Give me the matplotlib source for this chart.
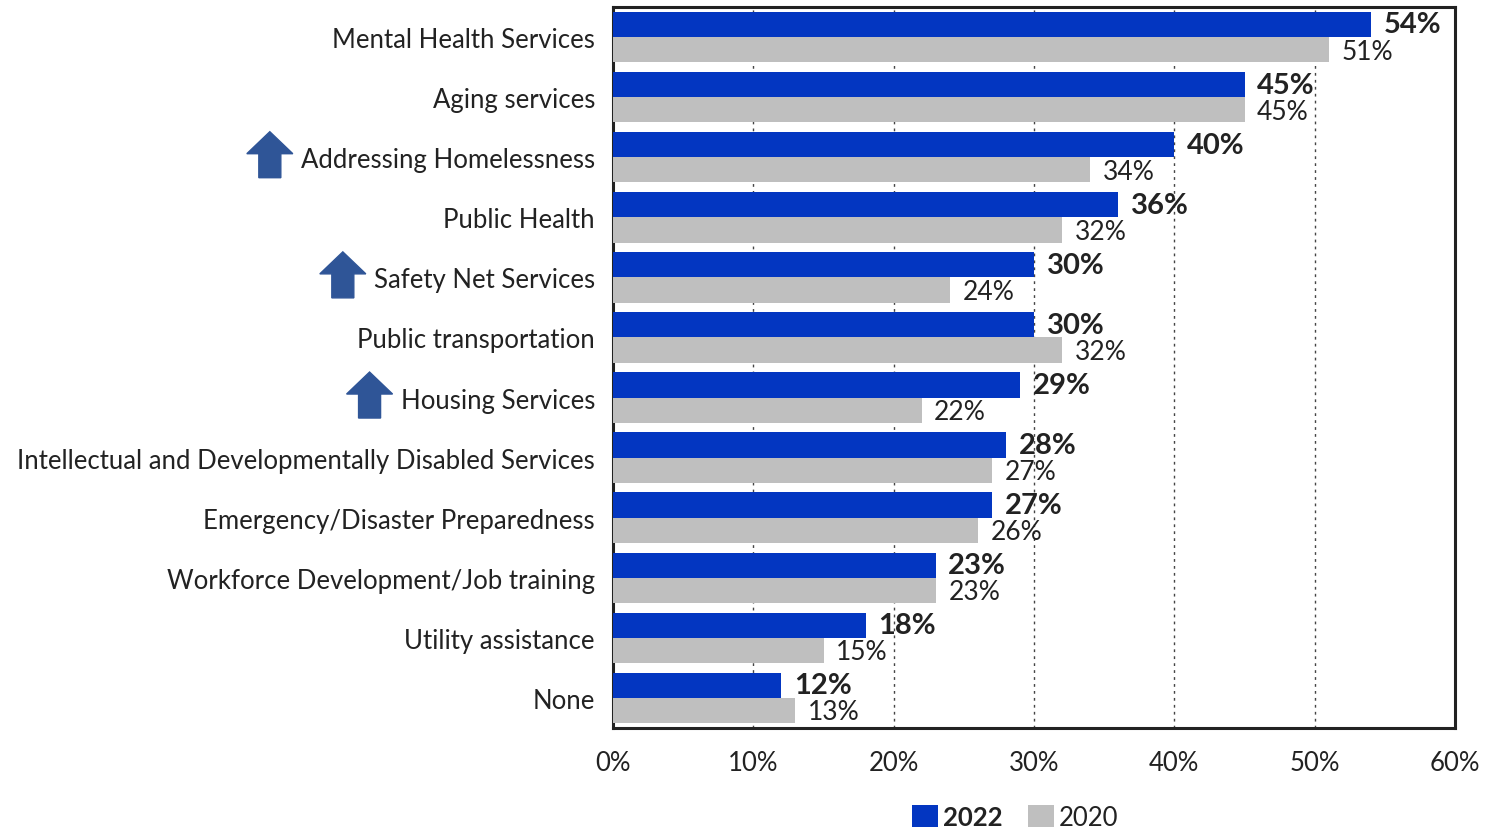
import numpy as np
from matplotlib import pyplot as plt
from matplotlib.patches import Polygon
from matplotlib.transforms import IdentityTransform

plt.rcParams['font.family'] = ['Lato', 'DejaVu Sans']

categories = ["Mental Health Services", "Aging services", "Addressing Homelessness",
              "Public Health", "Safety Net Services", "Public transportation",
              "Housing Services", "Intellectual and Developmentally Disabled Services",
              "Emergency/Disaster Preparedness", "Workforce Development/Job training",
              "Utility assistance", "None"]
vals_2022 = [54, 45, 40, 36, 30, 30, 29, 28, 27, 23, 18, 12]
vals_2020 = [51, 45, 34, 32, 24, 32, 22, 27, 26, 23, 15, 13]
arrow_cats = ["Addressing Homelessness", "Safety Net Services", "Housing Services"]
xticks = [0, 10, 20, 30, 40, 50, 60]

BLUE = "#0336C1"
GRAY = "#BFBFBF"
TEXT = "#222222"
ARROW = "#2F5597"

fig = plt.figure(figsize=(15.06, 8.37), dpi=100)
ax = fig.add_axes([613 / 1506, 1 - 729 / 837, 842 / 1506, 721 / 837])

y = np.arange(len(categories))
h = 0.42
ax.barh(y - h / 2, vals_2022, height=h, color=BLUE, label="2022", zorder=3)
ax.barh(y + h / 2, vals_2020, height=h, color=GRAY, label="2020", zorder=3)

for yi, v in zip(y, vals_2022):
    ax.annotate(f"{v}%", (v, yi - h / 2), xytext=(9, 0), textcoords="offset points",
                va="center", ha="left", fontsize=21, fontweight="bold", color=TEXT)
for yi, v in zip(y, vals_2020):
    ax.annotate(f"{v}%", (v, yi + h / 2), xytext=(9, -1), textcoords="offset points",
                va="center", ha="left", fontsize=19, color=TEXT)

ax.set_xlim(0, 60)
ax.set_ylim(len(categories) - 0.5, -0.5)
ax.set_yticks(y)
ax.set_yticklabels(categories, fontsize=18.5, color=TEXT)
ax.set_xticks(xticks)
ax.set_xticklabels([f"{t}%" for t in xticks], fontsize=18.5, color=TEXT)
ax.tick_params(axis="y", length=0, pad=13)
ax.tick_params(axis="x", length=0, pad=16)
for t in xticks[1:-1]:
    ax.axvline(t, color="#444444", linestyle=(0, (2, 3)), linewidth=1, zorder=1)
for s in ax.spines.values():
    s.set_linewidth(2.2)
    s.set_color("#222222")

leg = fig.legend(loc="lower center", bbox_to_anchor=(1015 / 1506, -0.02), ncol=2,
                 frameon=False, fontsize=18.5, handlelength=1.0, handleheight=0.95,
                 handletextpad=0.2, columnspacing=1.0)
leg.get_texts()[0].set_fontweight("bold")
for t in leg.get_texts():
    t.set_color(TEXT)

# up arrows next to some category labels
fig.canvas.draw()
renderer = fig.canvas.get_renderer()
for lab in ax.get_yticklabels():
    if lab.get_text() not in arrow_cats:
        continue
    bb = lab.get_window_extent(renderer)
    right = bb.x0 - 8
    yc = (bb.y0 + bb.y1) / 2
    w, sw, top, bot, neck = 46, 22, 28, -18, 6
    cx = right - w / 2
    pts = [(cx - w / 2, yc + neck), (cx, yc + top), (cx + w / 2, yc + neck),
           (cx + sw / 2, yc + neck), (cx + sw / 2, yc + bot),
           (cx - sw / 2, yc + bot), (cx - sw / 2, yc + neck)]
    fig.patches.append(Polygon(pts, closed=True, color=ARROW, transform=IdentityTransform(),
                               figure=fig))

fig.savefig("out.png", dpi=100)
